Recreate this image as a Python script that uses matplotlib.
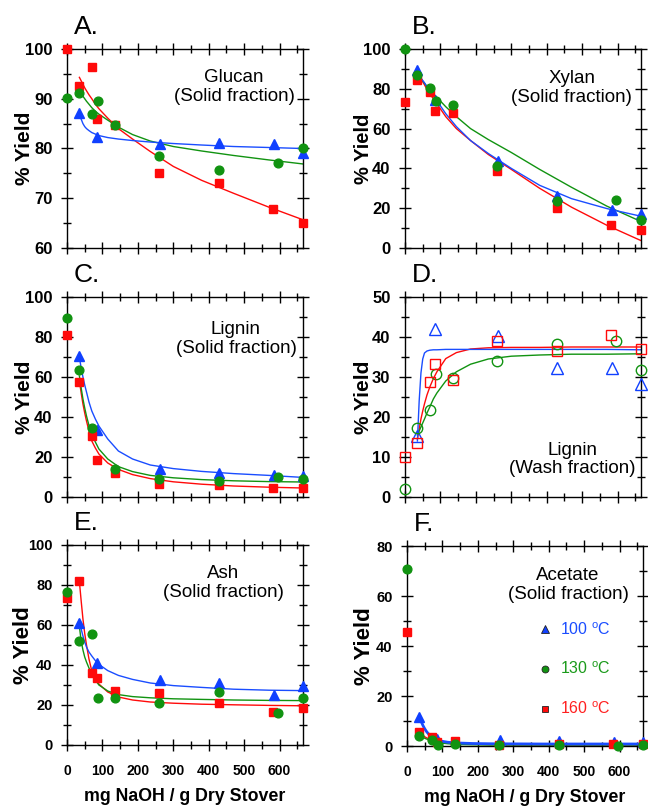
import numpy as np
import matplotlib
matplotlib.use("Agg")
import matplotlib.pyplot as plt
from matplotlib.ticker import MultipleLocator
from matplotlib.lines import Line2D

plt.rcParams['font.family'] = ['Liberation Sans', 'DejaVu Sans']
plt.rcParams['mathtext.fontset'] = 'custom'
plt.rcParams['mathtext.rm'] = 'Liberation Sans'

# ---------------- NaOH loadings (mg / g dry stover) -----------------
x_red = [0, 35, 70, 85, 135, 260, 428, 582, 665]
x_green = [0, 35, 70, 88, 135, 260, 428, 595, 665]
x_blue = [35, 86, 262, 428, 585, 665]

# fitted curves are read at these loadings
fit_x = [35, 40, 45, 50, 55, 62, 70, 80, 90, 115, 145, 185, 235, 300, 380, 470, 570, 665]

# ---------------- A. Glucan (solid) -----------------
glucan_red = [100, 92.6, 96.4, 86.0, 84.8, 75.0, 73.1, 67.8, 65.0]
glucan_green = [90.2, 91.2, 86.9, 89.6, 84.7, 78.4, 75.7, 77.0, 80.0]
glucan_blue = [87.1, 82.4, 80.9, 81.1, 81.0, 79.1]
glucan_red_fit = [94.3, 93.6, 92.9, 92.2, 91.6, 90.8, 90.0, 88.9, 88.0, 86.1, 84.0, 81.9, 79.4, 76.4, 73.6, 71.0, 68.2, 65.7]
glucan_green_fit = [91.8, 91.1, 90.5, 90.0, 89.5, 88.9, 88.2, 87.5, 86.9, 85.7, 84.3, 82.8, 81.5, 80.4, 79.5, 78.6, 77.7, 76.9]
glucan_blue_fit = [87.1, 85.9, 85.0, 84.4, 84.0, 83.6, 83.2, 82.9, 82.6, 82.2, 81.9, 81.6, 81.3, 81.0, 80.7, 80.4, 80.2, 80.0]

# ---------------- B. Xylan (solid) -----------------
xylan_red = [73.4, 84.6, 78.6, 69.0, 67.8, 38.5, 20.1, 11.7, 8.9]
xylan_green = [100, 87.1, 80.4, 74.0, 72.0, 41.4, 23.8, 24.3, 13.9]
xylan_blue = [89.3, 74.5, 43.9, 26.0, 19.3, 17.1]
xylan_red_fit = [88.8, 86.9, 85.0, 83.5, 82.0, 79.8, 77.5, 75.0, 72.5, 66.0, 60.0, 54.0, 47.0, 39.5, 30.0, 20.5, 11.4, 3.8]
xylan_green_fit = [87.1, 86.0, 85.0, 83.9, 82.8, 81.2, 79.5, 77.6, 75.7, 71.0, 66.0, 60.0, 54.5, 48.0, 39.5, 30.5, 21.0, 13.4]
xylan_blue_fit = [88.8, 87.1, 85.5, 84.2, 83.0, 81.0, 79.0, 76.5, 74.0, 67.5, 61.0, 54.0, 47.5, 40.0, 31.5, 24.8, 19.8, 16.0]

# ---------------- C. Lignin (solid) -----------------
lignin_red = [80.8, 57.5, 30.3, 18.7, 12.2, 6.7, 5.8, 4.7, 4.7]
lignin_green = [89.7, 63.7, 34.7, np.nan, 13.8, 9.2, 8.0, 10.0, 8.8]
lignin_blue = [70.5, 33.3, 14.2, 12.0, 10.8, 10.5]
lignin_red_fit = [58.0, 52.0, 46.5, 42.0, 38.0, 33.0, 28.0, 24.5, 21.5, 17.0, 13.8, 11.2, 9.2, 7.6, 6.4, 5.5, 4.9, 4.5]
lignin_green_fit = [60.5, 54.5, 49.0, 44.5, 40.5, 35.8, 31.5, 27.5, 24.0, 19.0, 15.2, 12.7, 10.8, 9.6, 8.7, 8.1, 7.7, 7.5]
lignin_blue_fit = [69.7, 64.5, 60.0, 56.0, 52.5, 47.5, 43.0, 39.0, 35.5, 29.0, 23.0, 19.0, 16.0, 14.2, 12.8, 11.7, 10.8, 9.8]

# ---------------- D. Lignin (wash) -----------------
wash_red = [10.0, 13.5, 28.75, 33.2, 29.3, 38.9, 36.5, 40.4, 37.1]
wash_green = [2.1, 17.25, 21.7, 30.8, 29.8, 33.9, 38.2, 38.9, 31.8]
wash_blue = [15.2, 42.1, 40.2, 32.3, 32.3, 28.3]
wash_red_fit = [14.5, 17.0, 19.5, 21.5, 23.3, 25.5, 27.5, 29.6, 31.3, 34.6, 36.1, 37.0, 37.3, 37.4, 37.4, 37.5, 37.5, 37.5]
wash_green_fit = [15.5, 16.5, 17.5, 18.5, 19.5, 21.0, 22.5, 24.5, 26.0, 29.0, 31.3, 33.2, 34.5, 35.2, 35.5, 35.7, 35.7, 35.8]
wash_blue_fit = [14.0, 24.0, 31.0, 34.5, 36.0, 36.5, 36.7, 36.8, 36.8, 36.9, 36.9, 36.9, 36.9, 36.9, 36.9, 36.9, 36.9, 36.8]

# ---------------- E. Ash (solid) -----------------
ash_red = [73.7, 82.2, 36.2, 33.7, 27.0, 25.8, 21.2, 16.7, 18.7]
ash_green = [76.7, 52.0, 55.5, 23.3, 23.3, 20.8, 26.3, 16.2, 23.3]
ash_blue = [60.8, 40.8, 32.5, 30.8, 25.0, 29.5]
ash_red_fit = [81.7, 72.0, 63.0, 55.8, 50.0, 43.0, 37.0, 33.0, 30.5, 26.5, 24.0, 22.5, 21.5, 20.9, 20.4, 20.1, 19.8, 19.6]
ash_green_fit = [59.2, 52.0, 47.5, 44.0, 41.5, 38.5, 35.5, 32.5, 30.0, 27.0, 25.2, 24.2, 23.6, 23.1, 22.8, 22.5, 22.3, 22.2]
ash_blue_fit = [62.5, 58.0, 54.5, 51.5, 49.0, 46.5, 44.5, 42.2, 40.3, 37.2, 34.8, 32.8, 31.0, 29.7, 28.8, 27.9, 27.4, 27.2]

# ---------------- F. Acetate (solid) -----------------
acetate_red = [45.6, 5.5, 3.5, 1.7, 2.1, 0.4, 0.7, 0.7, 0.7]
acetate_green = [70.8, 4.0, 2.4, 0.4, 1.0, 0.3, 0.3, 0.1, 0.5]
acetate_blue = [11.7, 3.0, 2.4, 2.1, 1.7, 1.7]
acetate_red_fit = [5.2, 4.6, 4.1, 3.7, 3.3, 2.8, 2.4, 2.0, 1.7, 1.2, 0.9, 0.7, 0.6, 0.5, 0.5, 0.5, 0.5, 0.5]
acetate_green_fit = [4.2, 3.8, 3.4, 3.1, 2.8, 2.4, 2.0, 1.6, 1.3, 0.9, 0.6, 0.5, 0.4, 0.4, 0.4, 0.4, 0.4, 0.4]
acetate_blue_fit = [11.7, 9.8, 8.2, 6.9, 5.8, 4.6, 3.6, 2.7, 2.1, 1.5, 1.2, 1.0, 0.9, 0.85, 0.8, 0.8, 0.8, 0.8]

temps = ['100', '130', '160']

BLUE = '#1040ff'
GREEN = '#119311'
RED = '#ff0a0a'

W, H = 648, 809
fig = plt.figure(figsize=(W / 100, H / 100), dpi=100)


def make_axes(left, top, width=236, height=200):
    return fig.add_axes([left / W, 1 - (top + height) / H, width / W, height / H])


def style(ax, letter, ymax, ymajor, yminor, ymin=0, bottom_row=False, ytick_size=12, ylab_size=15, ylab_x=-0.14):
    ax.set_xlim(0, 666)
    ax.set_ylim(ymin, ymax)
    ax.xaxis.set_major_locator(MultipleLocator(100))
    ax.xaxis.set_minor_locator(MultipleLocator(50))
    ax.yaxis.set_major_locator(MultipleLocator(ymajor))
    ax.yaxis.set_minor_locator(MultipleLocator(yminor))
    ax.tick_params(which='both', direction='inout', top=True, right=True, width=1.0)
    ax.tick_params(which='major', length=9)
    ax.tick_params(which='minor', length=6)
    ax.tick_params(axis='y', which='major', labelsize=ytick_size, pad=6)
    for lab in ax.get_yticklabels():
        lab.set_fontweight('bold')
    if bottom_row:
        ax.tick_params(axis='x', which='major', labelsize=10, pad=9)
        ax.set_xticks([0, 100, 200, 300, 400, 500, 600])
        ax.xaxis.set_minor_locator(MultipleLocator(50))
        for lab in ax.get_xticklabels():
            lab.set_fontweight('bold')
        ax.set_xlabel('mg NaOH / g Dry Stover', fontsize=12.8, fontweight='bold')
        ax.xaxis.set_label_coords(0.5, -0.215)
    else:
        ax.tick_params(axis='x', labelbottom=False)
    for sp in ax.spines.values():
        sp.set_linewidth(1.0)
    ax.set_ylabel('% Yield', fontsize=ylab_size, fontweight='bold')
    ax.yaxis.set_label_coords(ylab_x, 0.5)
    ax.text(0.03, 1.075, letter, transform=ax.transAxes, fontsize=19, ha='left', va='baseline')


def draw(ax, red, green, blue, red_fit, green_fit, blue_fit, open_marks=False, blue_lw=1.0):
    ax.plot(fit_x, red_fit, color=RED, lw=1.0, zorder=2)
    ax.plot(fit_x, green_fit, color=GREEN, lw=1.0, zorder=2)
    ax.plot(fit_x, blue_fit, color='#1a4dff', lw=blue_lw, zorder=2.5)
    if open_marks:
        ax.plot(x_blue, blue, '^', ms=8, mfc='none', mec=BLUE, mew=1.0, ls='none', zorder=3, clip_on=False)
        ax.plot(x_green, green, 'o', ms=7.5, mfc='none', mec=GREEN, mew=1.0, ls='none', zorder=3, clip_on=False)
        ax.plot(x_red, red, 's', ms=7.5, mfc='none', mec=RED, mew=1.0, ls='none', zorder=3, clip_on=False)
    else:
        ax.plot(x_blue, blue, '^', ms=7, color=BLUE, mec=BLUE, ls='none', zorder=3, clip_on=False)
        ax.plot(x_red, red, 's', ms=6, color=RED, mec=RED, ls='none', zorder=3, clip_on=False)
        ax.plot(x_green, green, 'o', ms=6.3, color=GREEN, mec=GREEN, ls='none', zorder=3, clip_on=False)


def note(ax, x, y, s):
    ax.text(x, y, s, transform=ax.transAxes, ha='center', va='center', fontsize=13.5, linespacing=1.15)


# A
axA = make_axes(67, 49, height=199)
draw(axA, glucan_red, glucan_green, glucan_blue, glucan_red_fit, glucan_green_fit, glucan_blue_fit)
style(axA, 'A.', 100, 10, 5, ymin=60)
note(axA, 0.708, 0.809, 'Glucan\n(Solid fraction)')

# B
axB = make_axes(405, 49, height=199)
draw(axB, xylan_red, xylan_green, xylan_blue, xylan_red_fit, xylan_green_fit, xylan_blue_fit)
style(axB, 'B.', 100, 20, 10, ylab_x=-0.135, ylab_size=14.5)
note(axB, 0.706, 0.804, 'Xylan\n(Solid fraction)')

# C
axC = make_axes(67, 297)
draw(axC, lignin_red, lignin_green, lignin_blue, lignin_red_fit, lignin_green_fit, lignin_blue_fit)
style(axC, 'C.', 100, 20, 10)
note(axC, 0.716, 0.79, 'Lignin\n(Solid fraction)')

# D
axD = make_axes(405, 297)
draw(axD, wash_red, wash_green, wash_blue, wash_red_fit, wash_green_fit, wash_blue_fit, open_marks=True)
style(axD, 'D.', 50, 10, 5, ylab_x=-0.135)
note(axD, 0.71, 0.1875, 'Lignin\n(Wash fraction)')

# E
axE = make_axes(67, 545)
draw(axE, ash_red, ash_green, ash_blue, ash_red_fit, ash_green_fit, ash_blue_fit)
style(axE, 'E.', 100, 20, 10, bottom_row=True, ytick_size=10.5, ylab_size=16)
note(axE, 0.661, 0.81, 'Ash\n(Solid fraction)')

# F
axF = make_axes(407, 546)
draw(axF, acetate_red, acetate_green, acetate_blue, acetate_red_fit, acetate_green_fit, acetate_blue_fit, blue_lw=2.0)
style(axF, 'F.', 80, 20, 10, bottom_row=True, ytick_size=10.5, ylab_size=16, ylab_x=-0.135)
note(axF, 0.682, 0.805, 'Acetate\n(Solid fraction)')

handles = [
    Line2D([], [], marker='^', ls='none', ms=5.5, mfc=BLUE, mec='#222222', mew=0.6),
    Line2D([], [], marker='o', ls='none', ms=5, mfc=GREEN, mec='#222222', mew=0.6),
    Line2D([], [], marker='s', ls='none', ms=5, mfc=RED, mec='#222222', mew=0.6),
]
labels = [t + r' $^{\mathrm{o}}$C' for t in temps]
leg = axF.legend(handles, labels, loc='upper left', bbox_to_anchor=(0.55, 0.625), frameon=False,
                 fontsize=11.5, handlelength=1.0, handletextpad=0.45, labelspacing=1.45,
                 borderpad=0, borderaxespad=0)
for txt, c in zip(leg.get_texts(), ['#1a4dff', '#1a9a1a', '#ff2020']):
    txt.set_color(c)

fig.savefig('out.png', dpi=100)
